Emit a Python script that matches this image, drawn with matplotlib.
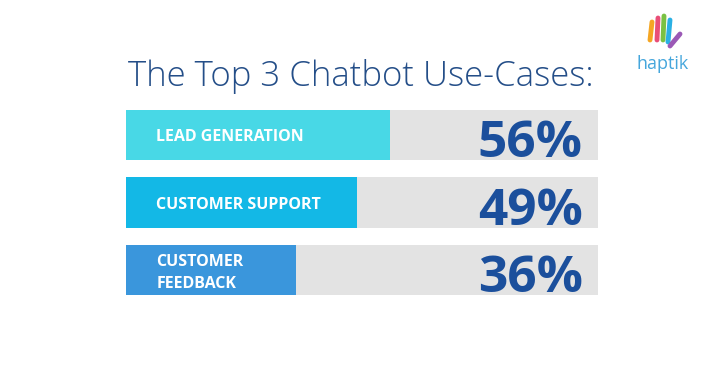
import matplotlib.pyplot as plt

# chart data
categories = ["LEAD GENERATION", "CUSTOMER SUPPORT", "CUSTOMER\nFEEDBACK"]
values = [56, 49, 36]
bar_colors = ["#48d8e6", "#13b8e6", "#3a96dc"]
title = "The Top 3 Chatbot Use-Cases:"

plt.rcParams['font.family'] = ['Open Sans', 'DejaVu Sans']

fig = plt.figure(figsize=(7.2, 3.77), dpi=100)
fig.patch.set_facecolor('white')

# axes sitting exactly over the bar area
ax = fig.add_axes([126 / 720, 1 - 295 / 377, 472 / 720, 185 / 377])
pos = list(range(len(values)))
ax.barh(pos, [100] * len(values), height=0.75, color="#e3e3e3")
ax.barh(pos, values, height=0.75, color=bar_colors)
ax.set_xlim(0, 100)
ax.set_ylim(2.375, -0.375)
ax.axis('off')

for i, (cat, v) in enumerate(zip(categories, values)):
    if '\n' in cat:
        ax.text(6.4, i + 0.05, cat, color='white', fontsize=11.5, fontweight='bold',
                ha='left', va='center', linespacing=1.45)
    else:
        ax.text(6.4, i + 0.09, cat, color='white', fontsize=11.5, fontweight='bold',
                ha='left', va='baseline')
    ax.text(96.8, i + 0.33, f"{v}%", color="#1b4f9c", fontsize=37,
            fontweight='bold', ha='right', va='baseline')

# title
fig.text(128 / 720, 1 - 86 / 377, title, color="#244e88", fontsize=25,
         fontweight='light', ha='left', va='baseline')

# logo: small coloured hand strokes + wordmark
hand = [("#f5a623", 652, 22, 650, 40), ("#e94e77", 658, 18, 657, 40),
        ("#7ac143", 664, 16, 663, 40), ("#2ab0e4", 670, 20, 668, 42),
        ("#9b59b6", 680, 34, 670, 46)]
for c, x0, y0, x1, y1 in hand:
    fig.add_artist(plt.Line2D([x0 / 720, x1 / 720], [1 - y0 / 377, 1 - y1 / 377],
                              color=c, lw=3.5, solid_capstyle='round'))
fig.text(663 / 720, 1 - 69 / 377, "haptik", color="#45a6dc", fontsize=13,
         ha='center', va='baseline')

fig.savefig("out.png", dpi=100, facecolor='white')
